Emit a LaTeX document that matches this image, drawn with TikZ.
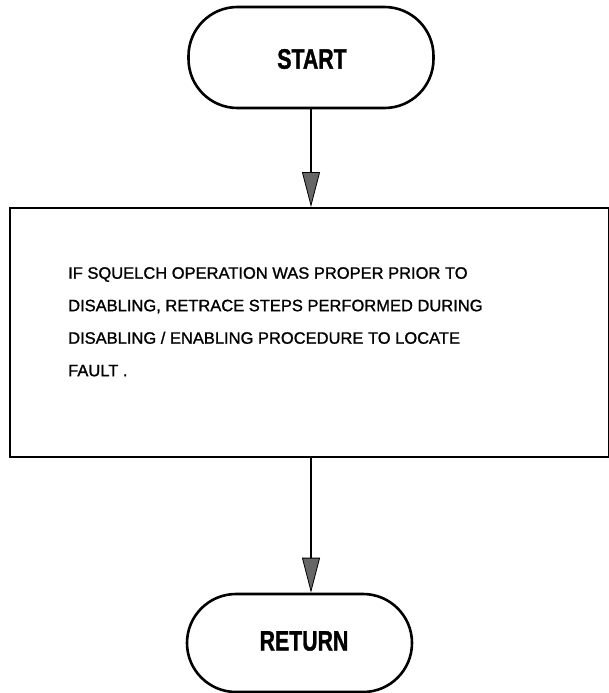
\documentclass[tikz,border=0pt]{standalone}
\usepackage{fontspec}
\setmainfont{Liberation Sans}[FakeBold=1.2]
\newfontfamily\termfont{Liberation Sans}[FakeBold=1.5]
\usetikzlibrary{arrows.meta}
\tikzset{
  term/.style={draw, line width=2.6pt, rounded corners=49pt, inner sep=0pt},
  procbox/.style={draw, line width=2pt, inner sep=0pt},
  termtext/.style={inner sep=0pt, font=\termfont\bfseries\fontsize{28}{28}\selectfont},
  arr/.style={line width=1.8pt, -{Triangle[length=35pt,width=18pt,fill=black!60,color=black,line width=0.8pt]}}
}
\begin{document}
\begin{tikzpicture}[x=1pt,y=-1pt]
\useasboundingbox (0,0) rectangle (609,693);
\node[term, minimum width=245pt, minimum height=101pt] (start) at (311,57.5) {};
\node[termtext] (starttxt) at (312,59) {\scalebox{0.76}[1]{START}};
\node[procbox, minimum width=599pt, minimum height=249pt] (proc) at (309.5,332.5) {};
\node[anchor=north west, inner sep=0pt, align=left, font=\fontsize{16.5}{32.5}\selectfont] (txt) at (68,267)
  {IF SQUELCH OPERATION WAS PROPER PRIOR TO\\
   DISABLING, RETRACE STEPS PERFORMED DURING\\
   DISABLING / ENABLING PROCEDURE TO LOCATE\\
   FAULT .};
\node[term, minimum width=225pt, minimum height=98pt] (ret) at (299.5,643) {};
\node[termtext] (rettxt) at (304,641) {\scalebox{0.76}[1]{RETURN}};
\draw[arr] (start.south) -- (start.south |- proc.north);
\draw[arr] (proc.south -| start.south) -- (start.south |- ret.north);
\end{tikzpicture}
\end{document}
